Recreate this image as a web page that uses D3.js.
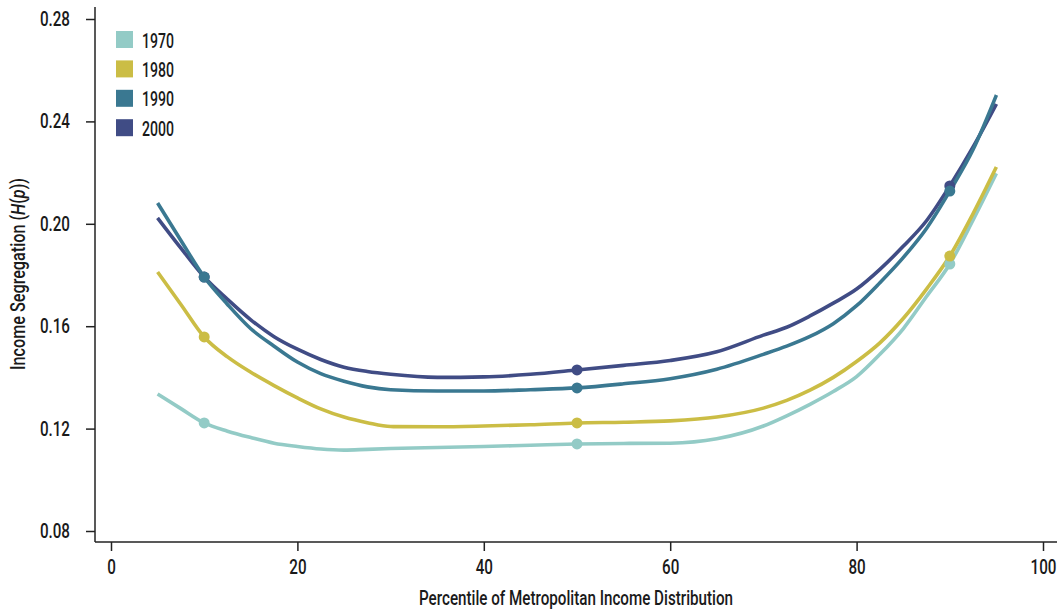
<!DOCTYPE html>
<html>
<head>
<meta charset="utf-8">
<script src="https://cdn.jsdelivr.net/npm/d3@7"></script>
<style>
  html, body { margin: 0; padding: 0; background: #fff; }
  svg { display: block; font-family: "Roboto", "Liberation Sans", sans-serif; font-weight: 500; }
</style>
</head>
<body>
<svg id="chart" width="1062" height="609"></svg>
<script>
// Percentile positions at which each curve is sampled
const percentiles = [5, 7.5, 10, 12.5, 15, 17.5, 20, 22.5, 25, 27.5, 30, 35, 40, 45, 50, 55, 60, 65, 70, 72.5, 75, 77.5, 80, 82.5, 85, 87.5, 90, 92.5, 95];

// Income segregation H(p) by decade
const h1970 = [0.1335, 0.1278, 0.1222, 0.1190, 0.1165, 0.1143, 0.1130, 0.1120, 0.1116, 0.1119, 0.1122, 0.1126, 0.1130, 0.1135, 0.1140, 0.1142, 0.1143, 0.1160, 0.1210, 0.1250, 0.1295, 0.1345, 0.1403, 0.1490, 0.1590, 0.1716, 0.1843, 0.2015, 0.2197];
const h1980 = [0.1812, 0.1685, 0.1558, 0.1480, 0.1420, 0.1368, 0.1320, 0.1277, 0.1245, 0.1223, 0.1208, 0.1207, 0.1210, 0.1215, 0.1222, 0.1225, 0.1230, 0.1245, 0.1280, 0.1310, 0.1350, 0.1400, 0.1462, 0.1535, 0.1630, 0.1745, 0.1874, 0.2040, 0.2222];
const h1990 = [0.2081, 0.1935, 0.1792, 0.1685, 0.1590, 0.1522, 0.1460, 0.1415, 0.1385, 0.1363, 0.1352, 0.1347, 0.1347, 0.1352, 0.1359, 0.1375, 0.1395, 0.1432, 0.1490, 0.1522, 0.1560, 0.1610, 0.1680, 0.1770, 0.1868, 0.1982, 0.2128, 0.2290, 0.2503];
const h2000 = [0.2023, 0.1905, 0.1792, 0.1705, 0.1625, 0.1559, 0.1510, 0.1470, 0.1440, 0.1423, 0.1412, 0.1400, 0.1402, 0.1412, 0.1429, 0.1447, 0.1466, 0.1500, 0.1565, 0.1596, 0.1640, 0.1690, 0.1745, 0.1822, 0.1912, 0.2012, 0.2148, 0.2300, 0.2468];

// Percentiles marked with a dot on every curve
const markedPercentiles = [10, 50, 90];

const years = ["1970", "1980", "1990", "2000"];
const seriesValues = [h1970, h1980, h1990, h2000];
const colors = ["#93cbc6", "#cbbd45", "#3a7891", "#404c85"];

const xTicks = [0, 20, 40, 60, 80, 100];
const yTicks = [0.08, 0.12, 0.16, 0.20, 0.24, 0.28];

const svg = d3.select("#chart");
const textColor = "#1a1a1a";
const squeeze = 0.76; // horizontal squeeze giving tick labels a condensed look

const x = d3.scaleLinear().domain([0, 100]).range([111, 1043]);
const y = d3.scaleLinear().domain([0.08, 0.28]).range([531, 19]);

const axisLeftX = 95, axisBottomY = 542;

// Axis spines, offset from the data area
svg.append("line")
  .attr("x1", axisLeftX).attr("x2", axisLeftX)
  .attr("y1", 7).attr("y2", axisBottomY)
  .attr("stroke", "#222").attr("stroke-width", 1.5);
svg.append("line")
  .attr("x1", axisLeftX).attr("x2", 1057)
  .attr("y1", axisBottomY).attr("y2", axisBottomY)
  .attr("stroke", "#222").attr("stroke-width", 1.5);

const yAxis = svg.append("g")
  .attr("transform", `translate(${axisLeftX},0)`)
  .call(d3.axisLeft(y).tickValues(yTicks).tickFormat(d3.format(".2f")).tickSize(9).tickPadding(16));
const xAxis = svg.append("g")
  .attr("transform", `translate(0,${axisBottomY})`)
  .call(d3.axisBottom(x).tickValues(xTicks).tickFormat(d3.format("d")).tickSize(9).tickPadding(5));

[yAxis, xAxis].forEach(g => {
  g.select(".domain").remove();
  g.selectAll(".tick line").attr("stroke", "#222").attr("stroke-width", 1.5);
  g.selectAll(".tick text")
    .attr("font-size", 20)
    .attr("font-family", "Roboto, sans-serif")
    .attr("font-weight", 500)
    .attr("fill", textColor);
});
// Condense via a horizontal scale, compensating the anchor offset
yAxis.selectAll(".tick text")
  .attr("x", -25 / squeeze)
  .attr("transform", `scale(${squeeze},1)`);
xAxis.selectAll(".tick text")
  .attr("dy", "0.9em")
  .attr("transform", `scale(${squeeze},1)`);

// Curves
const line = d3.line()
  .x((d, i) => x(percentiles[i]))
  .y(d => y(d))
  .curve(d3.curveMonotoneX);

const drawOrder = [0, 1, 3, 2];
const plot = svg.append("g");
drawOrder.forEach(k => {
  plot.append("path")
    .datum(seriesValues[k])
    .attr("fill", "none")
    .attr("stroke", colors[k])
    .attr("stroke-width", 3.6)
    .attr("stroke-linejoin", "round")
    .attr("d", line);
});
drawOrder.forEach(k => {
  plot.selectAll(null)
    .data(markedPercentiles)
    .enter().append("circle")
    .attr("cx", p => x(p))
    .attr("cy", p => y(seriesValues[k][percentiles.indexOf(p)]))
    .attr("r", 5.5)
    .attr("fill", colors[k]);
});

// Legend
const legend = svg.append("g").attr("transform", "translate(116,31)");
years.forEach((yr, i) => {
  const row = legend.append("g").attr("transform", `translate(0,${i * 29.4})`);
  row.append("rect").attr("width", 17).attr("height", 17).attr("fill", colors[i]);
  row.append("text")
    .attr("x", 26).attr("y", 16.5)
    .attr("font-size", 21)
    .attr("fill", textColor)
    .attr("textLength", 32).attr("lengthAdjust", "spacingAndGlyphs")
    .text(yr);
});

// Axis titles
svg.append("text")
  .attr("x", 576).attr("y", 605)
  .attr("text-anchor", "middle")
  .attr("font-size", 20.5)
  .attr("fill", textColor)
  .attr("textLength", 314).attr("lengthAdjust", "spacingAndGlyphs")
  .text("Percentile of Metropolitan Income Distribution");

const yTitle = svg.append("text")
  .attr("transform", "translate(25,274) rotate(-90)")
  .attr("text-anchor", "middle")
  .attr("font-size", 20.5)
  .attr("fill", textColor)
  .attr("textLength", 192).attr("lengthAdjust", "spacingAndGlyphs");
yTitle.append("tspan").text("Income Segregation (");
yTitle.append("tspan").attr("font-style", "italic").text("H");
yTitle.append("tspan").text("(");
yTitle.append("tspan").attr("font-style", "italic").text("p");
yTitle.append("tspan").text("))");
</script>
</body>
</html>
